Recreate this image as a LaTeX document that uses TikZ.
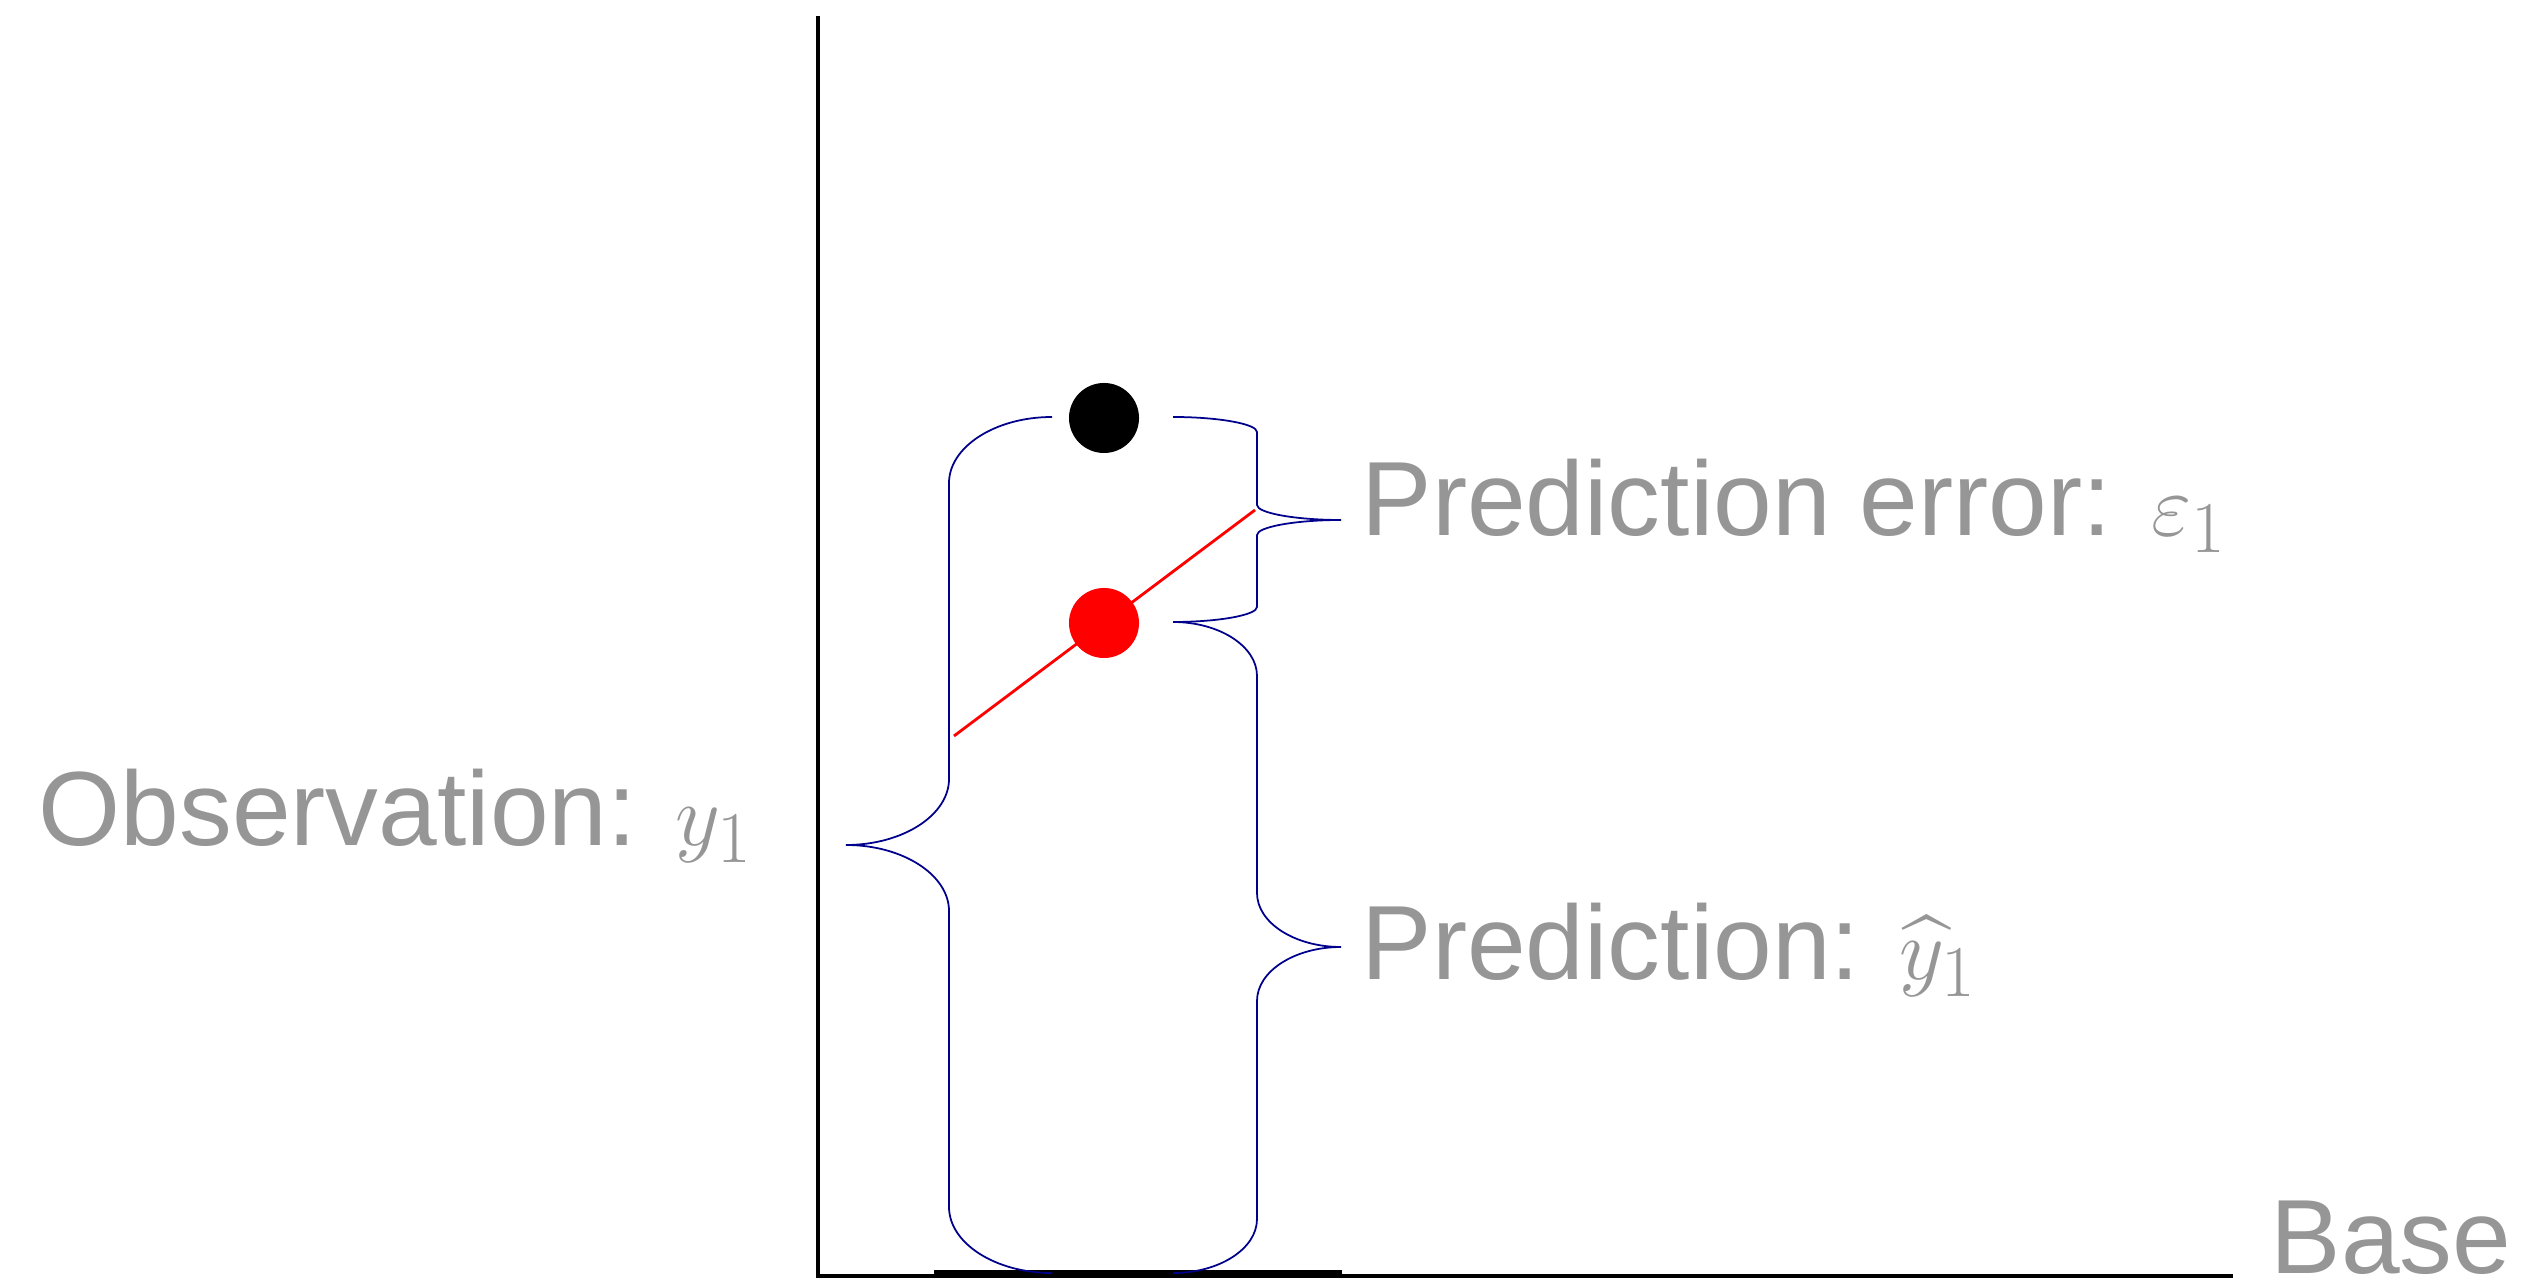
\documentclass[tikz,border=0pt]{standalone}
\usepackage{amsmath}
\usepackage[no-math]{fontspec}
\setmainfont{Liberation Sans}
\usepackage{xcolor}
\usepackage{tikz}
\definecolor{bracenavy}{RGB}{0,0,140}
\definecolor{labelgray}{RGB}{150,150,150}

\begin{document}
\begin{tikzpicture}[
  x=0.01cm, y=-0.01cm,
  axis/.style={line width=1.3pt, black},
  curly/.style={line width=0.5pt, draw=bracenavy},
  dot/.style={circle, minimum size=0.7cm, inner sep=0pt},
  fitline/.style={line width=0.8pt, red},
  lbl/.style={anchor=base west, inner sep=0pt, text=labelgray, font=\fontsize{30}{36}\selectfont}
]
\useasboundingbox (0,0) rectangle (2526,1283);

% axes
\coordinate (ytop) at (818,16);
\coordinate (origin) at (818,1276);
\coordinate (xend) at (2233,1276);
\coordinate (barl) at (934,1272);
\coordinate (barr) at (1342,1272);
\draw[axis] (ytop) -- (origin) -- (xend);
\draw[axis] (barl) -- (barr);

% fitted line
\coordinate (fitlo) at (954,736);
\coordinate (fithi) at (1255,510);
\draw[fitline] (fitlo) -- (fithi);

% points
\node[dot, fill=black] (actual) at (1104,418) {};
\node[dot, fill=red] (fitted) at (1104,623) {};

% braces
\draw[curly] (1052,417) .. controls (995,417) and (949,447) .. (949,483)
  -- (949,779) .. controls (949,815) and (903,845) .. (846,845)
  .. controls (903,845) and (949,875) .. (949,911)
  -- (949,1207) .. controls (949,1243) and (995,1273) .. (1052,1273);
\draw[curly] (1173,417) .. controls (1219,417) and (1257,424) .. (1257,432)
  -- (1257,505) .. controls (1257,513) and (1295,520) .. (1341,520)
  .. controls (1295,520) and (1257,527) .. (1257,535)
  -- (1257,607) .. controls (1257,615) and (1219,622) .. (1173,622);
\draw[curly] (1173,622) .. controls (1219,622) and (1257,646) .. (1257,676)
  -- (1257,893) .. controls (1257,923) and (1295,947) .. (1341,947)
  .. controls (1295,947) and (1257,971) .. (1257,1001)
  -- (1257,1219) .. controls (1257,1249) and (1219,1273) .. (1173,1273);

% labels
\node[lbl] (obslbl) at (38,846) {Observation: $y_1$};
\node[lbl] (errlbl) at (1361,536) {Prediction error: $\varepsilon_1$};
\node[lbl] (predlbl) at (1361,980) {Prediction: $\widehat{y}_1$};
\node[lbl] (baselbl) at (2270,1274) {Base};
\end{tikzpicture}
\end{document}
